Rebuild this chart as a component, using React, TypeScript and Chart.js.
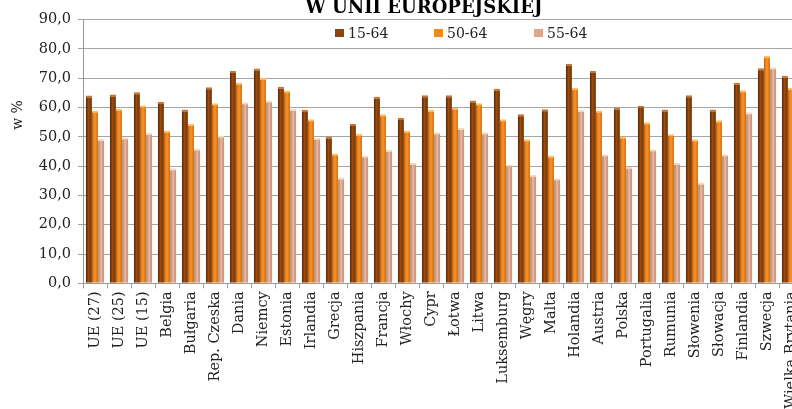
import React, { useEffect, useRef } from "react";
import { Chart, registerables } from "chart.js";

Chart.register(...registerables);

const TITLE = "W UNII EUROPEJSKIEJ";
const Y_TITLE = "w %";
const SERIES_NAMES = ["15-64", "50-64", "55-64"];

const CATEGORIES = [
  "UE (27)", "UE (25)", "UE (15)", "Belgia", "Bułgaria", "Rep. Czeska", "Dania", "Niemcy",
  "Estonia", "Irlandia", "Grecja", "Hiszpania", "Francja", "Włochy", "Cypr", "Łotwa",
  "Litwa", "Luksemburg", "Węgry", "Malta", "Holandia", "Austria", "Polska", "Portugalia",
  "Rumunia", "Słowenia", "Słowacja", "Finlandia", "Szwecja", "Wielka Brytania",
];

const AGE_15_64 = [
  64.1, 64.5, 65.2, 61.9, 59.3, 66.9, 72.5, 73.3,
  67.1, 59.2, 50.1, 54.4, 63.7, 56.4, 64.2, 64.2,
  62.4, 66.4, 57.7, 59.4, 75.0, 72.5, 60.0, 60.6,
  59.3, 64.2, 59.3, 68.5, 73.4, 70.9,
];

const AGE_50_64 = [
  59.0, 59.5, 60.7, 52.2, 54.5, 61.5, 68.6, 70.2,
  65.8, 56.0, 44.3, 51.1, 57.7, 52.2, 59.2, 60.0,
  61.5, 56.0, 49.2, 43.6, 66.8, 59.0, 50.1, 55.0,
  50.9, 49.2, 55.7, 65.9, 77.7, 66.8,
];

const AGE_55_64 = [
  49.3, 49.9, 51.4, 39.3, 46.0, 50.5, 61.8, 62.4,
  59.5, 49.7, 36.1, 43.6, 45.6, 41.2, 51.6, 53.1,
  51.6, 40.6, 37.1, 35.9, 59.2, 44.1, 39.8, 45.8,
  41.2, 34.4, 44.1, 58.4, 73.8, 57.0,
];

const Y_MIN = 0;
const Y_MAX = 90;
const Y_STEP = 10;

const FONT = "'DejaVu Serif', 'Liberation Serif', serif";
const CAT_PCT = 0.77;

const FILLS = [
  ["#552404", "#9a4b10", "#692f08"],
  ["#c25e0b", "#f8962a", "#d5700e"],
  ["#a87c6a", "#ecb89e", "#bf8f79"],
];
const CAPS = ["#c4732c", "#ffc062", "#f8d8c4"];
const LEGEND_COLORS = ["#8e4410", "#f08a1e", "#dca58c"];

function makeFill(dsIndex: number) {
  const stops = FILLS[dsIndex];
  return (ctx: any) => {
    const chart = ctx.chart;
    const xs = chart.scales && chart.scales.x;
    if (!xs || ctx.type !== "data" || !chart.chartArea) return stops[1];
    const catW = (xs.right - xs.left) / CATEGORIES.length;
    const bw = (catW * CAT_PCT) / 3;
    const cx = xs.getPixelForValue(ctx.dataIndex) + (dsIndex - 1) * bw;
    const g = chart.ctx.createLinearGradient(cx - bw / 2, 0, cx + bw / 2, 0);
    g.addColorStop(0, stops[0]);
    g.addColorStop(0.45, stops[1]);
    g.addColorStop(1, stops[2]);
    return g;
  };
}

const overlayPlugin = {
  id: "overlay",
  afterDraw(chart: any) {
    const c = chart.ctx;
    c.save();
    // title (its upper part is cut off in the source image)
    c.fillStyle = "#000";
    c.font = `bold 18px ${FONT}`;
    c.textAlign = "center";
    c.textBaseline = "alphabetic";
    c.fillText(TITLE, 424, 13);
    // legend
    const lx = [335, 434, 534];
    c.font = `14px ${FONT}`;
    c.textAlign = "left";
    SERIES_NAMES.forEach((name, i) => {
      c.fillStyle = LEGEND_COLORS[i];
      c.fillRect(lx[i], 29, 9, 8);
      c.fillStyle = "#222";
      c.fillText(name, lx[i] + 13, 37.5);
    });
    // y axis title
    c.translate(18, 115);
    c.rotate(-Math.PI / 2);
    c.textAlign = "center";
    c.textBaseline = "middle";
    c.font = `14px ${FONT}`;
    c.fillStyle = "#222";
    c.fillText(Y_TITLE, 0, 0);
    c.restore();
  },
};

export default function App() {
  const ref = useRef<HTMLCanvasElement | null>(null);

  useEffect(() => {
    if (!ref.current) return;
    const series = [AGE_15_64, AGE_50_64, AGE_55_64];
    const chart = new Chart(ref.current, {
      type: "bar",
      data: {
        labels: CATEGORIES,
        datasets: series.map((data, i) => ({
          label: SERIES_NAMES[i],
          data,
          backgroundColor: makeFill(i),
          borderColor: CAPS[i],
          borderWidth: { top: 2, left: 0, right: 0, bottom: 0 },
          borderSkipped: "bottom",
          barPercentage: 1,
          categoryPercentage: CAT_PCT,
        })),
      },
      options: {
        responsive: false,
        animation: false,
        layout: { padding: { top: 19.7, right: 47, left: 0, bottom: 0 } },
        plugins: {
          legend: { display: false },
          title: { display: false },
          tooltip: { enabled: false },
        },
        scales: {
          x: {
            afterFit: (s: any) => { s.height = 409 - 283.3; },
            grid: {
              offset: true,
              drawOnChartArea: false,
              drawTicks: true,
              tickLength: 5,
              color: "#999",
            },
            border: { display: true, color: "#999" },
            ticks: {
              autoSkip: false,
              minRotation: 90,
              maxRotation: 90,
              padding: 3,
              color: "#222",
              font: { family: FONT, size: 14.5 },
            },
          },
          y: {
            min: Y_MIN,
            max: Y_MAX,
            afterFit: (s: any) => { s.width = 83; },
            grid: { color: "#a6a6a6", lineWidth: 1, tickLength: 5, drawTicks: true },
            border: { display: true, color: "#999" },
            ticks: {
              stepSize: Y_STEP,
              padding: 7,
              color: "#222",
              font: { family: FONT, size: 14.5 },
              callback: (v: any) => Number(v).toFixed(1).replace(".", ","),
            },
          },
        },
      },
      plugins: [overlayPlugin],
    } as any);
    return () => chart.destroy();
  }, []);

  return (
    <div style={{ position: "fixed", left: 0, top: 0, width: 792, height: 409, overflow: "hidden", background: "#fff" }}>
      <canvas ref={ref} width={850} height={409} style={{ display: "block" }} />
    </div>
  );
}
